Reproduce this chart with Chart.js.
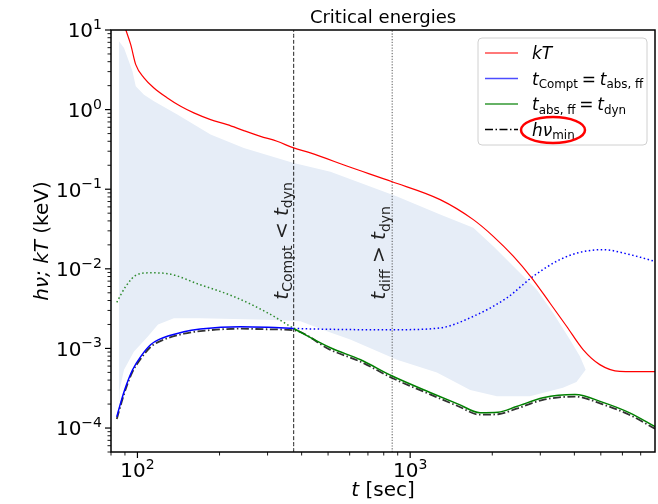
<!DOCTYPE html>
<html>
<head>
<meta charset="utf-8">
<script src="https://cdn.jsdelivr.net/npm/chart.js@4.4.0/dist/chart.umd.min.js"></script>
<style>
  html, body { margin: 0; padding: 0; background: #fff; }
  canvas { display: block; }
</style>
</head>
<body>
<canvas id="chart" width="658" height="504"></canvas>
<script>
// time axis [sec] and energies [keV]
const tKT = [90.6, 94.5, 98.6, 105.7, 115, 128.8, 144, 161, 185.4, 213.5, 245.5, 282.6, 325, 374, 430.6, 600, 859, 1288, 1704, 2017, 2388, 2788, 3253, 3745, 4305, 4957, 5866, 7900];
const kT = [10.1, 6.55, 3.67, 2.5, 1.87, 1.4, 1.1, 0.909, 0.749, 0.648, 0.545, 0.462, 0.4, 0.33, 0.286, 0.19, 0.124, 0.074, 0.0415, 0.0256, 0.0144, 0.0077, 3.72e-3, 1.9e-3, 9.66e-4, 6.26e-4, 5.15e-4, 5.1e-4];

const tCompt = [84, 86.9, 90.6, 96, 102.8, 112, 119.6, 148, 170, 239, 300, 374];
const eCompt = [1.38e-4, 2.1e-4, 3.3e-4, 5.4e-4, 7.9e-4, 1.12e-3, 1.29e-3, 1.62e-3, 1.75e-3, 1.87e-3, 1.84e-3, 1.78e-3];
const tComptDot = [374, 500, 700, 900, 1288, 1704, 2259, 2826, 3540, 4190, 5097, 6383, 7900];
const eComptDot = [1.78e-3, 1.74e-3, 1.72e-3, 1.72e-3, 1.81e-3, 2.53e-3, 4.3e-3, 8.05e-3, 0.01305, 0.0161, 0.0174, 0.0151, 0.0124];

const tDynDot = [84, 90.6, 100, 112, 129, 170, 225, 300, 374];
const eDynDot = [3.8e-3, 6.0e-3, 8.5e-3, 8.9e-3, 8.7e-3, 6.3e-3, 4.5e-3, 2.8e-3, 1.78e-3];
const tDyn = [374, 510, 658, 859, 1183, 1500, 1803, 2100, 2455, 3070, 4020, 5090, 6380, 7900];
const eDyn = [1.78e-3, 1.02e-3, 7.2e-4, 4.5e-4, 2.8e-4, 2.0e-4, 1.56e-4, 1.58e-4, 1.86e-4, 2.4e-4, 2.63e-4, 2.1e-4, 1.55e-4, 1.04e-4];

const tMin = [84, 86.9, 90.6, 96, 102.8, 112, 119.6, 148, 170, 239, 300, 374, 510, 658, 859, 1183, 1500, 1803, 2100, 2455, 3070, 4020, 5090, 6380, 7900];
const eMin = [1.3e-4, 1.95e-4, 3.1e-4, 5.1e-4, 7.4e-4, 1.05e-3, 1.21e-3, 1.53e-3, 1.65e-3, 1.77e-3, 1.74e-3, 1.69e-3, 9.6e-4, 6.8e-4, 4.25e-4, 2.65e-4, 1.88e-4, 1.47e-4, 1.49e-4, 1.75e-4, 2.26e-4, 2.48e-4, 1.98e-4, 1.46e-4, 9.8e-5];

// shaded region: upper edge left->right, lower edge right->left
const bandUpT = [85.6, 89.3, 95.9, 98.6, 105.7, 115, 140, 185.4, 245.5, 325, 374, 510, 895, 1288, 1704, 2017, 2455, 2908, 3344, 3850, 4190, 4400];
const bandUpE = [7.2, 5.96, 3.03, 1.96, 1.54, 1.27, 0.866, 0.485, 0.33, 0.247, 0.214, 0.166, 0.081, 0.048, 0.0327, 0.0192, 9.8e-3, 5.48e-3, 2.79e-3, 1.29e-3, 7.96e-4, 5.4e-4];
const bandLoT = [4070, 3630, 2750, 2080, 1660, 1253, 895, 603, 510, 396, 300, 170, 136, 119, 109, 97, 89.3, 86, 85.6];
const bandLoE = [3.8e-4, 3.2e-4, 2.5e-4, 2.5e-4, 3.0e-4, 5.0e-4, 7.2e-4, 1.29e-3, 1.58e-3, 2.2e-3, 2.3e-3, 2.4e-3, 2.4e-3, 2.0e-3, 1.4e-3, 9.1e-4, 5.4e-4, 3.0e-4, 1.5e-4];

const tComptLine = 374;  // t_Compt = t_dyn
const tDiffLine = 859;   // t_diff = t_dyn
const xRange = [80, 7900];
const yRange = [5e-5, 10];

const pts = (xs, ys) => xs.map((x, i) => ({ x, y: ys[i] }));
const vline = (t) => [{ x: t, y: yRange[0] }, { x: t, y: yRange[1] }];

const FONT = '"DejaVu Sans", sans-serif';
const font = (size, italic) => (italic ? 'italic ' : '') + size + 'px ' + FONT;

// tiny mathtext: parts are [text, style], style one of r, i, sub, sup, sp
function drawMath(ctx, parts, x, y, size, align) {
  let w = 0;
  const items = parts.map(([s, st]) => {
    const small = st === 'sub' || st === 'sup' || st === 'sp';
    const f = font(small ? size * 0.7 : size, st === 'i');
    ctx.font = f;
    const width = ctx.measureText(s).width;
    const dy = st === 'sub' ? size * 0.22 : st === 'sup' ? -size * 0.42 : 0;
    const it = { s, f, dy, x: w };
    w += width;
    return it;
  });
  const x0 = align === 'center' ? x - w / 2 : align === 'right' ? x - w : x;
  ctx.textAlign = 'left';
  ctx.textBaseline = 'alphabetic';
  items.forEach((it) => {
    ctx.font = it.f;
    ctx.fillText(it.s, x0 + it.x, y + it.dy);
  });
  return w;
}

const rel = (op) => [[' ', 'sp'], [op, 'r'], [' ', 'sp']];

const decor = {
  id: 'decor',
  afterDraw(chart) {
    const { ctx, chartArea: a, scales } = chart;
    const xs = scales.x, ys = scales.y;
    ctx.save();
    ctx.fillStyle = '#000';
    ctx.strokeStyle = '#000';

    // ticks
    for (let d = -5; d <= 1; d++) {
      for (let k = 1; k <= 9; k++) {
        const v = k * Math.pow(10, d);
        if (v < yRange[0] * 0.999 || v > yRange[1] * 1.001) continue;
        const py = ys.getPixelForValue(v);
        const len = k === 1 ? 6 : 3.5;
        ctx.lineWidth = k === 1 ? 1.2 : 0.9;
        ctx.beginPath();
        ctx.moveTo(a.left, py);
        ctx.lineTo(a.left - len, py);
        ctx.stroke();
        if (k === 1) {
          const exp = d < 0 ? '\u2212' + (-d) : String(d);
          drawMath(ctx, [['10', 'r'], [exp, 'sup']], a.left - 9, py + 7.3, 20, 'right');
        }
      }
    }
    for (let d = 1; d <= 3; d++) {
      for (let k = 1; k <= 9; k++) {
        const v = k * Math.pow(10, d);
        if (v < xRange[0] * 0.999 || v > xRange[1] * 1.001) continue;
        const px = xs.getPixelForValue(v);
        const len = k === 1 ? 6 : 3.5;
        ctx.lineWidth = k === 1 ? 1.2 : 0.9;
        ctx.beginPath();
        ctx.moveTo(px, a.bottom);
        ctx.lineTo(px, a.bottom + len);
        ctx.stroke();
        if (k === 1) {
          drawMath(ctx, [['10', 'r'], [String(d), 'sup']], px, 477, 20, 'center');
        }
      }
    }

    // spines
    ctx.lineWidth = 1.5;
    ctx.strokeRect(a.left, a.top, a.right - a.left, a.bottom - a.top);

    // title and axis labels
    ctx.font = font(18);
    ctx.textAlign = 'center';
    ctx.fillText('Critical energies', (a.left + a.right) / 2, 23);
    drawMath(ctx, [['t', 'i'], [' [sec]', 'r']], (a.left + a.right) / 2, 496, 20, 'center');
    ctx.save();
    ctx.translate(48, (a.top + a.bottom) / 2);
    ctx.rotate(-Math.PI / 2);
    drawMath(ctx, [['h\u03bd; kT', 'i'], [' (keV)', 'r']], 0, 0, 20, 'center');
    ctx.restore();

    // annotations along the vertical lines
    ctx.fillStyle = '#222';
    const yAnn = ys.getPixelForValue(4.1e-3);
    ctx.save();
    ctx.translate(xs.getPixelForValue(tComptLine) - 6, yAnn);
    ctx.rotate(-Math.PI / 2);
    drawMath(ctx, [['t', 'i'], ['Compt', 'sub'], [' < ', 'r'], ['t', 'i'], ['dyn', 'sub']], 0, 0, 20, 'left');
    ctx.restore();
    ctx.save();
    ctx.translate(xs.getPixelForValue(tDiffLine) - 7, yAnn);
    ctx.rotate(-Math.PI / 2);
    drawMath(ctx, [['t', 'i'], ['diff', 'sub'], [' > ', 'r'], ['t', 'i'], ['dyn', 'sub']], 0, 0, 20, 'left');
    ctx.restore();

    // legend
    const lx = 478, ly = 38, lw = 169, lh = 107;
    ctx.beginPath();
    ctx.roundRect(lx, ly, lw, lh, 4);
    ctx.fillStyle = 'rgba(255,255,255,0.8)';
    ctx.fill();
    ctx.strokeStyle = '#d0d0d0';
    ctx.lineWidth = 1;
    ctx.stroke();
    const entries = [
      { color: '#ff4d4d', dash: [], label: [['kT', 'i']] },
      { color: '#4d4dff', dash: [], label: [['t', 'i'], ['Compt', 'sub'], ...rel('='), ['t', 'i'], ['abs, ff', 'sub']] },
      { color: '#339933', dash: [], label: [['t', 'i'], ['abs, ff', 'sub'], ...rel('='), ['t', 'i'], ['dyn', 'sub']] },
      { color: '#000000', dash: [8, 2.5, 1.5, 2.5], label: [['h\u03bd', 'i'], ['min', 'sub']] },
    ];
    entries.forEach((e, i) => {
      const ry = 53 + i * 25.5;
      ctx.strokeStyle = e.color;
      ctx.lineWidth = 1.3;
      ctx.setLineDash(e.dash);
      ctx.beginPath();
      ctx.moveTo(485, ry);
      ctx.lineTo(518, ry);
      ctx.stroke();
      ctx.setLineDash([]);
      ctx.fillStyle = '#000';
      drawMath(ctx, e.label, 532, ry + 6, 17, 'left');
    });

    // red ellipse around h nu_min
    ctx.strokeStyle = '#ff0000';
    ctx.lineWidth = 2.5;
    ctx.beginPath();
    ctx.ellipse(553, 130, 32, 13, 0, 0, Math.PI * 2);
    ctx.stroke();
    ctx.restore();
  },
};

const line = (data, color, width, dash, order) => ({
  data,
  borderColor: color,
  borderWidth: width,
  borderDash: dash,
  pointRadius: 0,
  showLine: true,
  fill: false,
  cubicInterpolationMode: 'monotone',
  order,
});

new Chart(document.getElementById('chart').getContext('2d'), {
  type: 'scatter',
  data: {
    datasets: [
      line(pts(tKT, kT), '#ff0000', 1.2, [], 0),
      line(pts(tCompt, eCompt), '#0000ff', 1.5, [], 1),
      line(pts(tComptDot, eComptDot), '#0000ff', 1.5, [1.5, 2.5], 2),
      line(pts(tDynDot, eDynDot), '#2e8b2e', 1.5, [1.5, 2.5], 2),
      line(pts(tDyn, eDyn), '#008000', 1.5, [], 1),
      line(pts(tMin, eMin), 'rgba(0,0,0,0.8)', 1.8, [8, 2.5, 1.5, 2.5], 3),
      line(vline(tComptLine), '#222', 1, [4, 2], 8),
      line(vline(tDiffLine), '#555', 1, [1.2, 1.6], 8),
      {
        data: pts(bandUpT.concat(bandLoT), bandUpE.concat(bandLoE)),
        showLine: true,
        pointRadius: 0,
        borderWidth: 0,
        borderColor: 'rgba(0,0,0,0)',
        backgroundColor: '#e6edf7',
        fill: 'shape',
        tension: 0,
        order: 10,
      },
    ],
  },
  options: {
    responsive: false,
    animation: false,
    devicePixelRatio: 1,
    layout: { padding: { left: 111, right: 3, top: 30, bottom: 52 } },
    scales: {
      x: { type: 'logarithmic', min: xRange[0], max: xRange[1], display: false },
      y: { type: 'logarithmic', min: yRange[0], max: yRange[1], display: false },
    },
    plugins: {
      legend: { display: false },
      tooltip: { enabled: false },
    },
  },
  plugins: [decor],
});
</script>
</body>
</html>
